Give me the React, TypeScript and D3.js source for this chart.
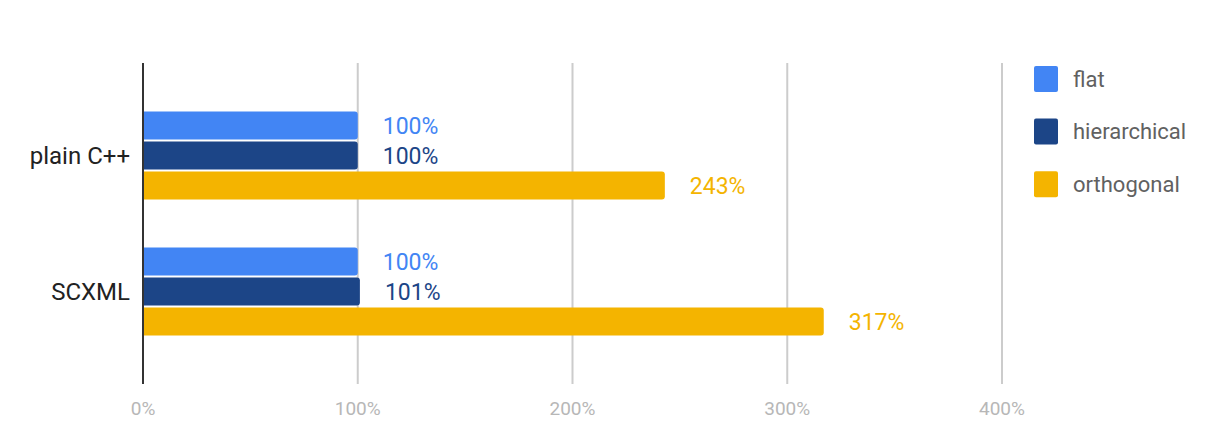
import { useEffect, useRef } from 'react';
import * as d3 from 'd3';

const categories = ['plain C++', 'SCXML'];
const seriesNames = ['flat', 'hierarchical', 'orthogonal'];
const seriesColors = ['#4285f4', '#1c4587', '#f4b400'];
const flatValues = [100, 100];
const hierarchicalValues = [100, 101];
const orthogonalValues = [243, 317];
const xTicks = [0, 100, 200, 300, 400];

const WIDTH = 1218;
const HEIGHT = 428;

export default function App() {
  const svgRef = useRef<SVGSVGElement>(null);

  useEffect(() => {
    if (!svgRef.current) return;
    const svg = d3.select(svgRef.current);
    svg.selectAll('*').remove();

    const margin = { top: 63, left: 143, right: 216, bottom: 44 };
    const innerWidth = WIDTH - margin.left - margin.right;
    const innerHeight = HEIGHT - margin.top - margin.bottom;

    const valuesBySeries = [flatValues, hierarchicalValues, orthogonalValues];
    const rows = categories.map((cat, ci) => ({
      cat,
      values: seriesNames.map((s, si) => ({ series: s, idx: si, value: valuesBySeries[si][ci] })),
    }));

    const x = d3.scaleLinear().domain([0, 400]).range([0, innerWidth]);
    const y0 = d3.scaleBand<string>().domain(categories).range([0, innerHeight]).paddingInner(0.353).paddingOuter(0.357);
    const y1 = d3.scaleBand<string>().domain(seriesNames).range([0, y0.bandwidth()]).paddingInner(0.067);

    const font = 'Roboto, sans-serif';
    const g = svg.append('g').attr('transform', `translate(${margin.left},${margin.top})`);

    // gridlines
    g.selectAll('line.grid')
      .data(xTicks.filter((t) => t > 0))
      .join('line')
      .attr('class', 'grid')
      .attr('x1', (d) => x(d))
      .attr('x2', (d) => x(d))
      .attr('y1', 0)
      .attr('y2', innerHeight)
      .attr('stroke', '#cccccc')
      .attr('stroke-width', 2);

    // tick labels
    g.selectAll('text.tick')
      .data(xTicks)
      .join('text')
      .attr('class', 'tick')
      .attr('x', (d) => x(d))
      .attr('y', innerHeight + 31)
      .attr('text-anchor', 'middle')
      .attr('font-family', font)
      .attr('font-size', 19)
      .attr('fill', '#b7b7b7')
      .text((d) => `${d}%`);

    const barPath = (w: number, h: number, r: number) => {
      const rr = Math.min(r, w, h / 2);
      return `M0,0H${w - rr}Q${w},0 ${w},${rr}V${h - rr}Q${w},${h} ${w - rr},${h}H0Z`;
    };

    const groups = g.selectAll('g.cat')
      .data(rows)
      .join('g')
      .attr('class', 'cat')
      .attr('transform', (d) => `translate(0,${y0(d.cat)})`);

    groups.selectAll('path')
      .data((d) => d.values)
      .join('path')
      .attr('transform', (d) => `translate(0,${y1(d.series)})`)
      .attr('d', (d) => barPath(x(d.value), y1.bandwidth(), 3))
      .attr('fill', (d) => seriesColors[d.idx]);

    groups.selectAll('text.val')
      .data((d) => d.values)
      .join('text')
      .attr('class', 'val')
      .attr('x', (d) => x(d.value) + 25)
      .attr('y', (d) => (y1(d.series) ?? 0) + y1.bandwidth() / 2)
      .attr('dy', '0.35em')
      .attr('font-family', font)
      .attr('font-size', 23)
      .attr('fill', (d) => seriesColors[d.idx])
      .text((d) => `${d.value}%`);

    // category labels
    g.selectAll('text.cat')
      .data(categories)
      .join('text')
      .attr('class', 'cat')
      .attr('x', -13)
      .attr('y', (d) => (y0(d) ?? 0) + y0.bandwidth() / 2)
      .attr('dy', '0.35em')
      .attr('text-anchor', 'end')
      .attr('font-family', font)
      .attr('font-size', 24)
      .attr('fill', '#222222')
      .text((d) => d);

    // baseline axis
    g.append('line')
      .attr('x1', x(0))
      .attr('x2', x(0))
      .attr('y1', 0)
      .attr('y2', innerHeight)
      .attr('stroke', '#333333')
      .attr('stroke-width', 2);

    // legend
    const legend = svg.append('g').attr('transform', 'translate(1034,66)');
    seriesNames.forEach((name, i) => {
      legend.append('rect')
        .attr('x', 0)
        .attr('y', i * 52.6)
        .attr('width', 24)
        .attr('height', 26)
        .attr('rx', 2)
        .attr('fill', seriesColors[i]);
      legend.append('text')
        .attr('x', 39)
        .attr('y', i * 52.6 + 13)
        .attr('dy', '0.35em')
        .attr('font-family', font)
        .attr('font-size', 22)
        .attr('fill', '#616161')
        .text(name);
    });
  }, []);

  return (
    <svg
      ref={svgRef}
      width={WIDTH}
      height={HEIGHT}
      style={{ position: 'absolute', left: 0, top: 0, background: '#ffffff' }}
    />
  );
}
